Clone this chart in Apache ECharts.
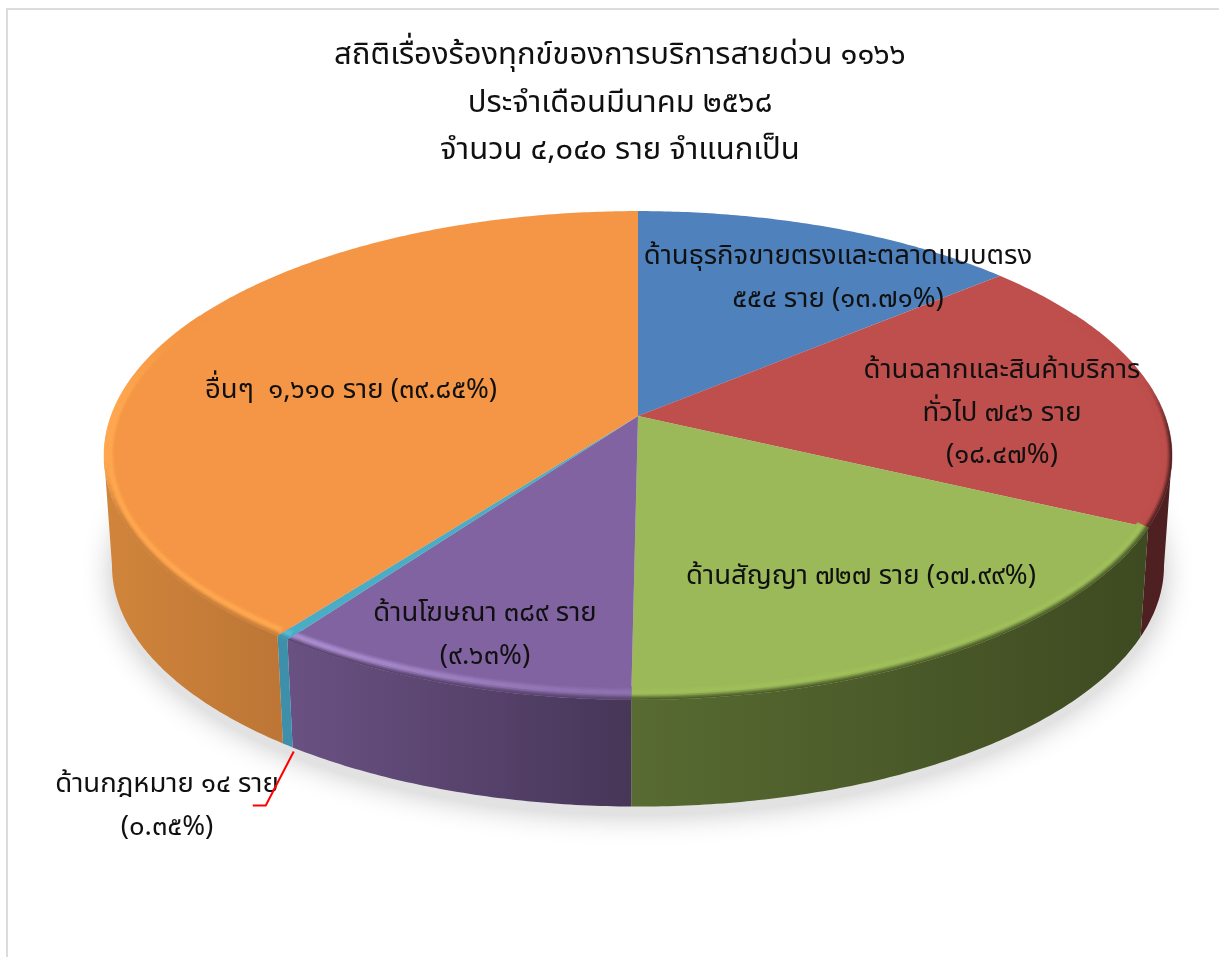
<!DOCTYPE html>
<html>
<head>
<meta charset="utf-8">
<style>html,body{margin:0;padding:0;background:#fff}#main{width:1219px;height:957px}</style>
<script src="https://cdn.jsdelivr.net/npm/echarts@6/dist/echarts.min.js"></script>
</head>
<body>
<div id="main"></div>
<script>
// Complaint counts by category
const categories = ['ด้านธุรกิจขายตรงและตลาดแบบตรง', 'ด้านฉลากและสินค้าบริการทั่วไป', 'ด้านสัญญา', 'ด้านโฆษณา', 'ด้านกฎหมาย', 'อื่นๆ'];
const complaints = [554, 746, 727, 389, 14, 1610];
const sliceLabels = [
  'ด้านธุรกิจขายตรงและตลาดแบบตรง\n๕๕๔ ราย (๑๓.๗๑%)',
  'ด้านฉลากและสินค้าบริการ\nทั่วไป ๗๔๖ ราย\n(๑๘.๔๗%)',
  'ด้านสัญญา ๗๒๗ ราย (๑๗.๙๙%)',
  'ด้านโฆษณา ๓๘๙ ราย\n(๙.๖๓%)',
  'ด้านกฎหมาย ๑๔ ราย\n(๐.๓๕%)',
  'อื่นๆ  ๑,๖๑๐ ราย (๓๙.๘๕%)'
];
const titleText = 'สถิติเรื่องร้องทุกข์ของการบริการสายด่วน ๑๑๖๖\nประจำเดือนมีนาคม ๒๕๖๘\nจำนวน ๔,๐๔๐ ราย จำแนกเป็น';

// Surface colours per slice
const topColors = ['#4f81bd', '#be4f4c', '#9bb958', '#8063a0', '#4bacc6', '#f49645'];
const rimColors = ['#4f81bd', '#be4f4c', '#a9cc62', '#ad8fd2', '#58bcd6', '#ffa851'];
const wallStart = ['#3a5f8c', '#4d1f21', '#3e4a21', '#473658', '#3e8fa9', '#bd7636'];
const wallEnd = ['#3a5f8c', '#4f2021', '#586b32', '#6a5183', '#3e8fa9', '#d1853b'];

// Label centres, in pixels
const labelSpots = [[838, 280], [1002, 415], [861, 578], [485, 637], [167, 808], [351, 392]];

// Perspective disc: top face projection
const disc = { cx: 638, cy: 416, a: 527, b: 238, k: 0.1614 };
const wallDrop = 111, wallShrink = 0.985;
const total = complaints.reduce((s, v) => s + v, 0);
const textFont = '"Noto Sans Thai", "Noto Sans", "DejaVu Sans", sans-serif';

function project(theta, rx, ry, lower) {
  const X = Math.sin(theta), Y = -Math.cos(theta);
  const w = 1 - disc.k * Y, s = lower ? wallShrink : 1;
  return [disc.cx + s * disc.a * rx * X / w, disc.cy + (lower ? wallDrop : 0) + s * disc.b * ry * Y / w];
}
function arc(t0, t1, rx, ry, lower) {
  const n = Math.max(2, Math.ceil(Math.abs(t1 - t0) / 0.01)), pts = [];
  for (let i = 0; i <= n; i++) pts.push(project(t0 + (t1 - t0) * i / n, rx, ry, lower));
  return pts;
}
const toRgb = c => [1, 3, 5].map(i => parseInt(c.substr(i, 2), 16));
function mix(a, b, f) { return a.map((v, i) => v + (b[i] - v) * f); }
const css = c => 'rgb(' + c.map(Math.round).join(',') + ')';
const smooth = (e0, e1, x) => { const t = Math.min(1, Math.max(0, (x - e0) / (e1 - e0))); return t * t * (3 - 2 * t); };

function renderSlice(params, api) {
  const i = params.dataIndex;
  let before = 0;
  for (let j = 0; j < i; j++) before += complaints[j];
  const t0 = before / total * 2 * Math.PI;
  const t1 = (before + api.value(0)) / total * 2 * Math.PI;
  const children = [];

  // soft ground shadow under the whole disc
  if (i === 0) {
    const ring = arc(0, 2 * Math.PI, 1, 1, true).map(p => [p[0], p[1] + 8]);
    children.push({ type: 'polygon', shape: { points: ring }, style: { fill: '#e2e2e2', shadowBlur: 30, shadowColor: 'rgba(0,0,0,0.24)' } });
  }

  // side wall between the two silhouette tangents
  const visStart = Math.PI / 2 + Math.asin(disc.k), visEnd = 3 * Math.PI / 2 - Math.asin(disc.k);
  const w0 = Math.max(t0, visStart), w1 = Math.min(t1, visEnd);
  if (w1 > w0) {
    const upper = arc(w0, w1, 1, 1, false), lowerEdge = arc(w0, w1, 1, 1, true).reverse();
    const a = project(w0, 1, 1, false), b = project(w1, 1, 1, false);
    children.push({
      type: 'polygon',
      shape: { points: upper.concat(lowerEdge) },
      style: { fill: new echarts.graphic.LinearGradient(a[0], 0, b[0], 0, [
        { offset: 0, color: wallStart[i] }, { offset: 1, color: wallEnd[i] }], true) }
    });
  }

  // top face
  children.push({
    type: 'polygon',
    shape: { points: [[disc.cx, disc.cy]].concat(arc(t0, t1, 1, 1, false)) },
    style: { fill: topColors[i] }
  });

  // bevel along the rim: highlight first, then a soft roll into the wall colour
  const top = toRgb(topColors[i]), rim = toRgb(rimColors[i]);
  const edge = mix(toRgb(wallEnd[i]), toRgb(wallStart[i]), 0.5);
  const steps = Math.max(1, Math.ceil((t1 - t0) / 0.03));
  const bandCount = 8;
  for (let s = 0; s < steps; s++) {
    const ta = t0 + (t1 - t0) * s / steps, tb = t0 + (t1 - t0) * (s + 1) / steps;
    const tm = (ta + tb) / 2, X = Math.sin(tm), Y = -Math.cos(tm);
    const fade = smooth(-0.45, 0.0, Y);
    if (fade <= 0) continue;
    const glow = fade * (0.35 + 0.65 * smooth(0, -0.6, X));
    const roll = X > 0 ? smooth(-0.2, 0.15, Y) : smooth(0.15, 0.45, Y);
    for (let n = 0; n < bandCount; n++) {
      const u0 = n / bandCount, u1 = (n + 1) / bandCount, u = (u0 + u1) / 2;
      const rx = v => 1 - 0.021 * (1 - v), ry = v => 1 - 0.046 * (1 - v);
      const pts = arc(ta, tb, rx(u0), ry(u0), false).concat(arc(ta, tb, rx(u1), ry(u1), false).reverse());
      let c = mix(top, rim, glow * smooth(0, 0.45, u));
      c = mix(c, edge, roll * smooth(0.5, 1, u));
      const col = css(c);
      children.push({ type: 'polygon', shape: { points: pts }, style: { fill: col, stroke: col, lineWidth: 0.4 } });
    }
  }
  return { type: 'group', children };
}

// Labels and the leader line sit in their own layer above the disc
function renderLabel(params, api) {
  const i = params.dataIndex;
  const spot = labelSpots[i];
  const children = [{
    type: 'text',
    style: {
      text: sliceLabels[i], x: spot[0], y: spot[1], align: 'center', verticalAlign: 'middle',
      font: '400 27.5px ' + textFont, lineHeight: 42.5, fill: '#101010'
    }
  }];
  if (categories[i] === 'ด้านกฎหมาย') {
    let before = 0;
    for (let j = 0; j < i; j++) before += complaints[j];
    const mid = (before + api.value(0) / 2) / total * 2 * Math.PI;
    const p = project(mid, 1, 1, true);
    const start = [p[0] + 6, p[1] + 6];
    const elbow = [start[0] - 28, start[1] + 54];
    children.push({
      type: 'polyline',
      shape: { points: [start, elbow, [elbow[0] - 13, elbow[1]]] },
      style: { stroke: '#ff0000', lineWidth: 2, fill: 'none' }
    });
  }
  return { type: 'group', children };
}

const chart = echarts.init(document.getElementById('main'), null, { renderer: 'canvas' });
chart.setOption({
  animation: false,
  backgroundColor: '#ffffff',
  title: {
    text: titleText, left: 615, top: 29, textAlign: 'center',
    textStyle: { fontSize: 31, fontWeight: 400, lineHeight: 47.5, color: '#101010', fontFamily: textFont }
  },
  graphic: [
    { type: 'line', shape: { x1: 7, y1: 9, x2: 7, y2: 957 }, style: { stroke: '#dcdcdc', lineWidth: 2 } },
    { type: 'line', shape: { x1: 6, y1: 9, x2: 1219, y2: 9 }, style: { stroke: '#dcdcdc', lineWidth: 2 } }
  ],
  series: [
    { type: 'custom', coordinateSystem: 'none', renderItem: renderSlice, data: complaints.map(v => [v]), silent: true, z: 2 },
    { type: 'custom', coordinateSystem: 'none', renderItem: renderLabel, data: complaints.map(v => [v]), silent: true, z: 3 }
  ]
});
</script>
</body>
</html>
